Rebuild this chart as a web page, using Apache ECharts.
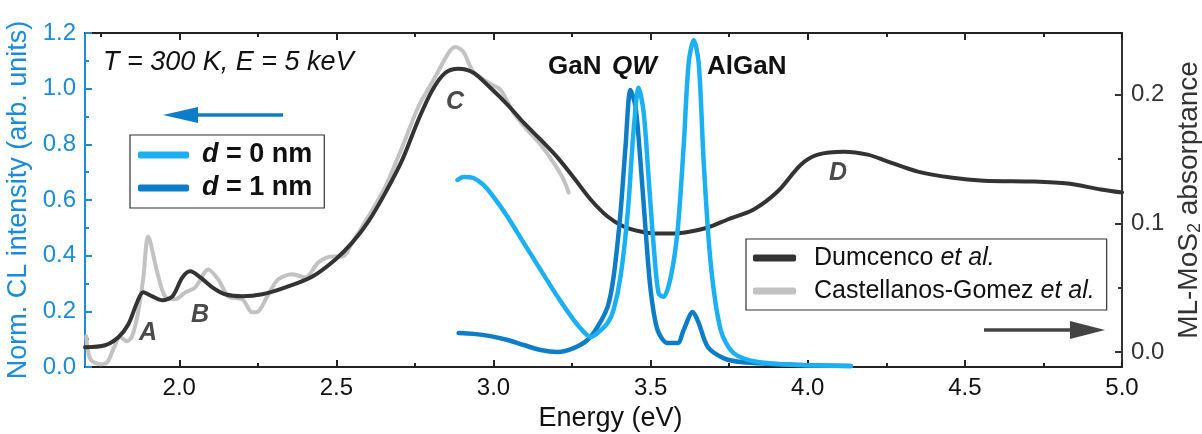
<!DOCTYPE html>
<html>
<head>
<meta charset="utf-8">
<script src="https://cdn.jsdelivr.net/npm/echarts@6/dist/echarts.min.js"></script>
<style>
  html, body { margin: 0; padding: 0; background: #fff; }
  #chart { width: 1202px; height: 434px; }
</style>
</head>
<body>
<div id="chart"></div>
<script>
// energy (eV) / absorptance
const dumcE = [1.70, 1.764, 1.806, 1.838, 1.866, 1.885, 1.914, 1.946, 1.978, 2.010, 2.035, 2.067, 2.105, 2.146, 2.201, 2.264, 2.338, 2.424, 2.497, 2.551, 2.602, 2.656, 2.710, 2.761, 2.806, 2.847, 2.889, 2.936, 2.990, 3.045, 3.096, 3.150, 3.204, 3.255, 3.309, 3.363, 3.414, 3.468, 3.522, 3.573, 3.627, 3.682, 3.745, 3.828, 3.904, 3.978, 4.032, 4.115, 4.191, 4.255, 4.350, 4.455, 4.561, 4.720, 4.828, 4.933, 5.0];
const dumcA = [0.0039, 0.0054, 0.0116, 0.0217, 0.0388, 0.0465, 0.0434, 0.0403, 0.0434, 0.0581, 0.0628, 0.0581, 0.0504, 0.0450, 0.0434, 0.0450, 0.0504, 0.0589, 0.0721, 0.0853, 0.1016, 0.124, 0.1496, 0.1806, 0.2039, 0.2171, 0.2202, 0.2171, 0.2054, 0.1922, 0.1783, 0.1651, 0.1512, 0.1357, 0.1186, 0.1054, 0.0977, 0.0938, 0.0922, 0.0922, 0.0938, 0.0969, 0.1031, 0.1109, 0.1248, 0.1457, 0.1535, 0.1558, 0.1535, 0.1481, 0.1403, 0.1357, 0.1333, 0.1326, 0.1310, 0.1264, 0.124];

const castE = [1.704, 1.717, 1.748, 1.771, 1.790, 1.812, 1.834, 1.850, 1.869, 1.885, 1.901, 1.930, 1.955, 1.987, 2.019, 2.051, 2.092, 2.124, 2.156, 2.201, 2.232, 2.252, 2.280, 2.315, 2.360, 2.401, 2.443, 2.487, 2.519, 2.551, 2.602, 2.656, 2.710, 2.761, 2.815, 2.857, 2.879, 2.904, 2.936, 2.990, 3.022, 3.064, 3.096, 3.150, 3.191, 3.223, 3.239];
const castA = [0.0124, -0.0054, -0.0093, -0.0078, 0.0023, 0.0116, 0.0085, 0.0124, 0.031, 0.0566, 0.0899, 0.062, 0.0434, 0.0411, 0.0465, 0.0504, 0.0643, 0.0566, 0.0434, 0.0411, 0.031, 0.0318, 0.0434, 0.0566, 0.0605, 0.0581, 0.0698, 0.0744, 0.0744, 0.0853, 0.1054, 0.1287, 0.1597, 0.1907, 0.214, 0.2326, 0.2372, 0.2333, 0.2178, 0.2085, 0.2039, 0.186, 0.176, 0.1612, 0.1473, 0.1341, 0.124];

// normalised CL intensity
const d0E = [2.885, 2.904, 2.936, 2.968, 3.000, 3.045, 3.096, 3.150, 3.204, 3.255, 3.287, 3.309, 3.331, 3.363, 3.382, 3.404, 3.427, 3.446, 3.462, 3.478, 3.494, 3.510, 3.525, 3.541, 3.564, 3.586, 3.605, 3.621, 3.637, 3.653, 3.669, 3.691, 3.723, 3.764, 3.841, 3.978, 4.137];
const d0I = [0.672, 0.683, 0.679, 0.654, 0.611, 0.539, 0.446, 0.349, 0.252, 0.169, 0.126, 0.108, 0.122, 0.158, 0.205, 0.323, 0.553, 0.852, 1.003, 0.913, 0.672, 0.431, 0.266, 0.252, 0.323, 0.492, 0.791, 1.092, 1.175, 1.092, 0.733, 0.374, 0.133, 0.050, 0.018, 0.007, 0.004];

const d1E = [2.889, 2.936, 2.990, 3.045, 3.096, 3.150, 3.204, 3.255, 3.299, 3.331, 3.363, 3.382, 3.404, 3.420, 3.436, 3.452, 3.468, 3.484, 3.500, 3.522, 3.554, 3.586, 3.605, 3.634, 3.653, 3.682, 3.732, 3.787, 3.978, 4.137];
const d1I = [0.122, 0.119, 0.111, 0.097, 0.079, 0.061, 0.054, 0.068, 0.097, 0.144, 0.216, 0.323, 0.553, 0.791, 0.995, 0.934, 0.733, 0.492, 0.277, 0.133, 0.086, 0.086, 0.133, 0.198, 0.158, 0.072, 0.032, 0.018, 0.007, 0.004];

const xMajor = [2.0, 2.5, 3.0, 3.5, 4.0, 4.5, 5.0];
const xMinor = [1.75, 2.25, 2.75, 3.25, 3.75, 4.25, 4.75];
const absMajor = [0, 0.1, 0.2];
const absMinor = [0.05, 0.15];

const FONT = '"Liberation Sans", Arial, sans-serif';
const BLUE_AX = '#1a8cd8';
const C_D0 = '#1ab0f2';
const C_D1 = '#0e7dc8';
const C_DUMC = '#333333';
const C_CAST = '#c2c2c2';

const zip = (a, b) => a.map((v, i) => [v, b[i]]);

const chart = echarts.init(document.getElementById('chart'));

const xBase = (pos, ticks, len, showLine, showLabel) => ({
  type: 'value',
  position: pos,
  min: 1.7,
  max: 5.0,
  axisLine: { show: showLine, onZero: false, lineStyle: { color: '#222', width: 2 } },
  axisTick: { show: true, inside: true, length: len, customValues: ticks, lineStyle: { color: '#222', width: 2 } },
  axisLabel: showLabel
    ? { show: true, customValues: ticks, margin: 9, color: '#111', fontSize: 24, fontFamily: FONT, formatter: (v) => v.toFixed(1) }
    : { show: false },
  splitLine: { show: false },
});

const letter = (t, x, y) => ({
  type: 'text', x: x, y: y,
  style: { text: t, font: 'italic bold 25px ' + FONT, fill: '#4a4a4a', align: 'center', verticalAlign: 'middle' },
});

chart.setOption({
  animation: false,
  backgroundColor: '#fff',
  grid: { left: 85, right: 80, top: 33, bottom: 67, outerBoundsMode: 'none' },
  xAxis: [
    Object.assign(xBase('bottom', xMajor, 7, true, true), {
      name: 'Energy (eV)',
      nameLocation: 'middle',
      nameGap: 34,
      nameTextStyle: { fontSize: 27, fontFamily: FONT, color: '#111', padding: [0, 0, 0, 14] },
    }),
    xBase('bottom', xMinor, 4, false, false),
    xBase('top', xMajor, 7, true, false),
    xBase('top', xMinor, 4, false, false),
  ],
  yAxis: [
    {
      type: 'value',
      position: 'left',
      min: 0,
      max: 1.2,
      interval: 0.2,
      name: 'Norm. CL intensity (arb. units)',
      nameLocation: 'middle',
      nameRotate: 90,
      nameGap: 46,
      nameTextStyle: { fontSize: 27, fontFamily: FONT, color: BLUE_AX },
      axisLine: { show: true, lineStyle: { color: BLUE_AX, width: 2 } },
      axisTick: { show: true, inside: true, length: 7, lineStyle: { color: BLUE_AX, width: 2 } },
      minorTick: { show: true, splitNumber: 2, length: 4, lineStyle: { color: BLUE_AX, width: 2 } },
      axisLabel: { color: BLUE_AX, fontSize: 24, fontFamily: FONT, margin: 9, formatter: (v) => v.toFixed(1) },
      splitLine: { show: false },
      minorSplitLine: { show: false },
    },
    {
      type: 'value',
      position: 'right',
      min: -0.0115,
      max: 0.248,
      name: 'ML-MoS{sub|2} absorptance',
      nameLocation: 'middle',
      nameRotate: 90,
      nameGap: 50,
      nameTextStyle: {
        fontSize: 28, fontFamily: FONT, color: '#333',
        rich: { sub: { fontSize: 18, fontFamily: FONT, color: '#333', padding: [12, 0, 0, 0] } },
      },
      axisLine: { show: true, lineStyle: { color: '#333', width: 2 } },
      axisTick: { show: true, inside: true, length: 7, customValues: absMajor, lineStyle: { color: '#333', width: 2 } },
      axisLabel: { customValues: absMajor, color: '#333', fontSize: 24, fontFamily: FONT, margin: 9, formatter: (v) => v.toFixed(1) },
      splitLine: { show: false },
    },
    {
      type: 'value',
      position: 'right',
      min: -0.0115,
      max: 0.248,
      axisLine: { show: false },
      axisTick: { show: true, inside: true, length: 4, customValues: absMinor, lineStyle: { color: '#333', width: 2 } },
      axisLabel: { show: false },
      splitLine: { show: false },
    },
  ],
  legend: [
    {
      data: ['d = 0 nm', 'd = 1 nm'],
      orient: 'vertical',
      left: 130,
      top: 135,
      padding: [6, 12, 6, 8],
      itemGap: 5,
      itemWidth: 51,
      itemHeight: 7,
      icon: 'roundRect',
      selectedMode: false,
      borderColor: '#333',
      borderWidth: 1.2,
      borderRadius: 0,
      backgroundColor: '#fff',
      formatter: (n) => (n === 'd = 0 nm' ? '{i|d} = 0 nm' : '{i|d} = 1 nm'),
      textStyle: {
        fontSize: 27, fontWeight: 'bold', fontFamily: FONT, color: '#111', lineHeight: 28, padding: [0, 0, 0, 8],
        rich: { i: { fontSize: 27, fontWeight: 'bold', fontStyle: 'italic', fontFamily: FONT, color: '#111', lineHeight: 28 } },
      },
    },
    {
      data: ['Dumcenco et al.', 'Castellanos-Gomez et al.'],
      orient: 'vertical',
      left: 746,
      top: 239,
      padding: [5, 12, 5, 7],
      itemGap: 5,
      itemWidth: 43,
      itemHeight: 7,
      icon: 'roundRect',
      selectedMode: false,
      borderColor: '#333',
      borderWidth: 1.2,
      borderRadius: 0,
      backgroundColor: '#fff',
      formatter: (n) => n.replace(' et al.', ' {i|et al.}'),
      textStyle: {
        fontSize: 25, fontFamily: FONT, color: '#111', lineHeight: 28, padding: [0, 0, 0, 13],
        rich: { i: { fontSize: 25, fontStyle: 'italic', fontFamily: FONT, color: '#111', lineHeight: 28 } },
      },
    },
  ],
  graphic: [
    { type: 'text', x: 103, y: 62, style: { text: 'T = 300 K, E = 5 keV', font: 'italic 27px ' + FONT, fill: '#111', verticalAlign: 'middle' } },
    { type: 'line', shape: { x1: 283, y1: 115, x2: 185, y2: 115 }, style: { stroke: C_D1, lineWidth: 3.5 } },
    { type: 'polygon', shape: { points: [[163, 115], [198, 107], [198, 123]] }, style: { fill: C_D1 } },
    { type: 'line', shape: { x1: 984, y1: 330, x2: 1080, y2: 330 }, style: { stroke: '#444', lineWidth: 3.5 } },
    { type: 'polygon', shape: { points: [[1105, 330], [1070, 321], [1070, 339]] }, style: { fill: '#444' } },
    { type: 'text', x: 548, y: 67, style: { text: 'GaN', font: 'bold 26px ' + FONT, fill: '#111', verticalAlign: 'middle' } },
    { type: 'text', x: 612, y: 67, style: { text: 'QW', font: 'italic bold 26px ' + FONT, fill: '#111', verticalAlign: 'middle' } },
    { type: 'text', x: 707, y: 67, style: { text: 'AlGaN', font: 'bold 26px ' + FONT, fill: '#111', verticalAlign: 'middle' } },
    letter('A', 148, 333),
    letter('B', 200, 315),
    letter('C', 455, 102),
    letter('D', 838, 173),
  ],
  series: [
    {
      name: 'Castellanos-Gomez et al.',
      type: 'line',
      xAxisIndex: 0,
      yAxisIndex: 1,
      data: zip(castE, castA),
      showSymbol: false,
      smooth: 0.3,
      z: 2,
      itemStyle: { color: C_CAST },
      lineStyle: { color: C_CAST, width: 4, cap: 'round' },
    },
    {
      name: 'Dumcenco et al.',
      type: 'line',
      xAxisIndex: 0,
      yAxisIndex: 1,
      data: zip(dumcE, dumcA),
      showSymbol: false,
      smooth: 0.3,
      z: 3,
      itemStyle: { color: C_DUMC },
      lineStyle: { color: C_DUMC, width: 4, cap: 'round' },
    },
    {
      name: 'd = 1 nm',
      type: 'line',
      xAxisIndex: 0,
      yAxisIndex: 0,
      data: zip(d1E, d1I),
      showSymbol: false,
      smooth: 0.3,
      z: 4,
      itemStyle: { color: C_D1 },
      lineStyle: { color: C_D1, width: 4.5, cap: 'round' },
    },
    {
      name: 'd = 0 nm',
      type: 'line',
      xAxisIndex: 0,
      yAxisIndex: 0,
      data: zip(d0E, d0I),
      showSymbol: false,
      smooth: 0.3,
      z: 5,
      itemStyle: { color: C_D0 },
      lineStyle: { color: C_D0, width: 4.5, cap: 'round' },
    },
  ],
});
</script>
</body>
</html>
